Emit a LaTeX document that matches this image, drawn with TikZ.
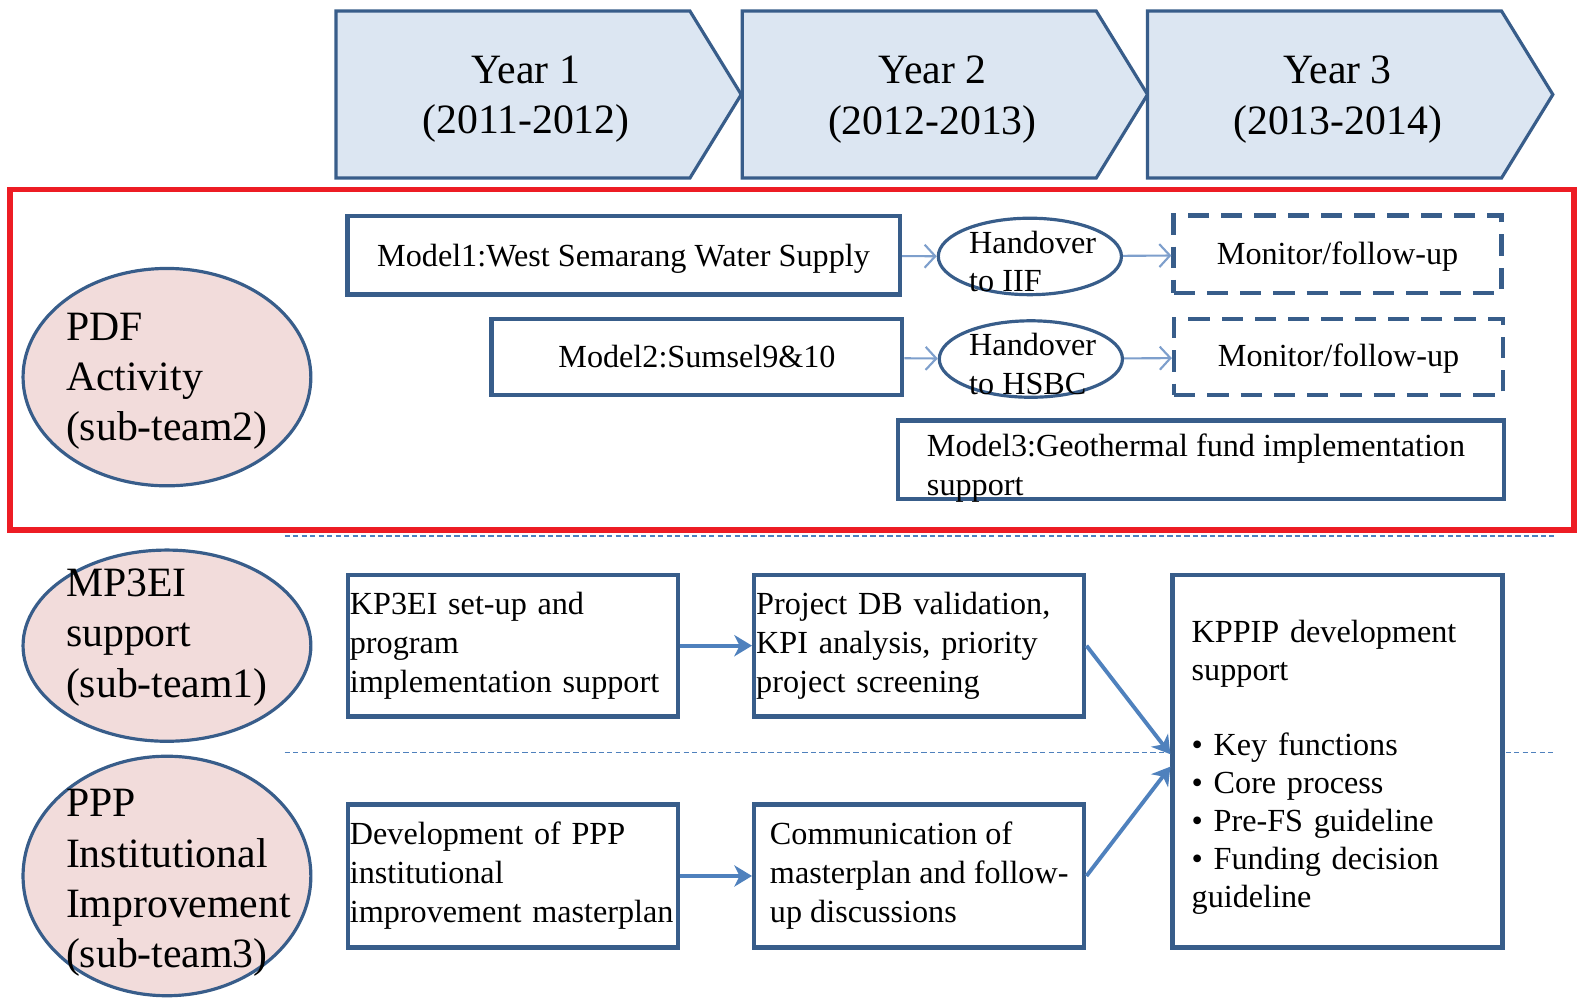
\documentclass[tikz,border=0pt]{standalone}
\usepackage{fontspec}
\setmainfont{Liberation Serif}
\usetikzlibrary{positioning,shapes.geometric,arrows.meta}
\definecolor{frameblue}{HTML}{385D8A}
\definecolor{chevfill}{HTML}{DCE6F2}
\definecolor{teamfill}{HTML}{F2DCDB}
\definecolor{pdfred}{HTML}{ED1C24}
\definecolor{arrowblue}{HTML}{4F81BD}
\definecolor{thinblue}{HTML}{7E9FCC}

\begin{document}
\begin{tikzpicture}[x=0.01cm,y=-0.01cm,
		small/.style={font=\fontsize{9.1}{11}\selectfont},
		big/.style={font=\fontsize{11.8}{14.2}\selectfont},
		chevron/.style={draw=frameblue,line width=0.9pt,fill=chevfill},
		team/.style={ellipse,draw=frameblue,line width=0.9pt,fill=teamfill,inner sep=0pt},
		teamtext/.style={big,align=left,anchor=west,inner sep=0pt},
		box/.style={draw=frameblue,line width=1.25pt,fill=white,small,inner ysep=1pt},
		leftbox/.style={box,align=left,inner xsep=0.02cm,text width=3.24cm},
		dashbox/.style={box,dash pattern=on 6pt off 3.4pt},
		handover/.style={ellipse,draw=frameblue,line width=0.9pt,fill=white,inner sep=0pt,minimum width=1.82cm,minimum height=0.76cm},
		thinarrow/.style={draw=thinblue,line width=0.6pt,-{Straight Barb[length=3pt,width=6.5pt]}},
		thickarrow/.style={draw=arrowblue,line width=1.1pt,-{Stealth[length=5pt,width=6pt,inset=1.5pt]}},
		divider/.style={draw=arrowblue,line width=0.35pt,dash pattern=on 1.5pt off 0.9pt}]
		\useasboundingbox (0,0) rectangle (1568,992);
		% time line
		\foreach \x/\yr/\yrs in {334/1/2011-2012,738/2/2012-2013,1141/3/2013-2014}{
			\draw[chevron](\x,11)--++(352,0)--++(51,83)--++(-51,83)--++(-352,0)--cycle;
			\node[big,align=center] (year\yr) at (\x+189,99) {Year \yr\\(\yrs)};
		}
		% PDF part
		\draw[pdfred,line width=1.45pt](10,188) rectangle (1565,527);
		\draw[divider](283,533)--(1545,533);
		\draw[divider](283,748)--(1160,748);
		\draw[divider](1497,748)--(1545,748);
		% teams
		\node[team,minimum width=2.86cm,minimum height=2.16cm] (pdf) at (166,375) {};
		\node[teamtext] (pdftext) at (65,379) {PDF\\Activity\\(sub-team2)};
		\node[team,minimum width=2.86cm,minimum height=1.9cm] (mp3ei) at (166,642) {};
		\node[teamtext] (mp3eitext) at (65,634) {MP3EI\\support\\(sub-team1)};
		\node[team,minimum width=2.86cm,minimum height=2.38cm] (ppp) at (166,871) {};
		\node[teamtext] (ppptext) at (65,878) {PPP\\Institutional\\Improvement\\(sub-team3)};
		% models
		\node[box,minimum width=5.49cm,minimum height=0.78cm] (model1) at (620,254) {\rule{0pt}{8pt}Model1:West Semarang Water Supply};
		\node[handover] (hand1) at (1024,255) {};
		\node[small,align=left,anchor=west,inner sep=0pt] (hand1text) at (963,260) {Handover\\to IIF};
		\node[dashbox,minimum width=3.26cm,minimum height=0.77cm] (mon1) at (1330,253) {\rule{0pt}{7.5pt}Monitor/follow-up\hspace{6pt}};
		\node[box,minimum width=4.08cm,minimum height=0.75cm] (model2) at (693,355) {Model2:Sumsel9\&10\hspace{12pt}};
		\node[handover] (hand2) at (1025,357) {};
		\node[small,align=left,anchor=west,inner sep=0pt] (hand2text) at (963,362) {Handover\\to HSBC};
		\node[dashbox,minimum width=3.27cm,minimum height=0.75cm] (mon2) at (1331,355) {\rule{0pt}{7.5pt}Monitor/follow-up\hspace{6pt}};
		\node[box,minimum width=6.02cm,minimum height=0.78cm] (model3) at (1194,457) {};
		\node[small,align=left,anchor=west,inner sep=0pt] (model3text) at (921,465) {Model3:Geothermal fund implementation\\support};
		\draw[thinarrow](model1)--(hand1);
		\draw[thinarrow](hand1)--(mon1);
		\draw[thinarrow](model2)--(hand2);
		\draw[thinarrow](hand2)--(mon2);
		% KPPIP flow
		\node[leftbox,minimum height=1.41cm] (kp3ei) at (510,642) {KP3EI set-up and\\program\\implementation support};
		\node[leftbox,minimum height=1.41cm] (projdb) at (914,642) {Project DB validation,\\KPI analysis, priority\\project screening};
		\node[leftbox,minimum height=1.42cm] (devppp) at (510,871) {Development of PPP\\institutional\\improvement masterplan};
		\node[box,align=left,minimum width=3.28cm,minimum height=1.42cm] (comm) at (914,871) {Communication of\\masterplan and follow-\\up discussions};
		\node[box,align=left,inner xsep=0.19cm,text width=2.9cm,minimum height=3.7cm,font=\fontsize{9.1}{10.7}\selectfont] (kppip) at (1330,757) {\rule{0pt}{9.6pt}KPPIP development\\support\\[10.7pt]\textbullet{} Key functions\\\textbullet{} Core process\\\textbullet{} Pre-FS guideline\\\textbullet{} Funding decision\\guideline};
		\draw[thickarrow](kp3ei)--(projdb);
		\draw[thickarrow](devppp)--(comm);
		\draw[thickarrow](projdb.east)--([yshift=2pt]kppip.west);
		\draw[thickarrow](comm.east)--([yshift=-1.5pt]kppip.west);
	\end{tikzpicture}
\end{document}
